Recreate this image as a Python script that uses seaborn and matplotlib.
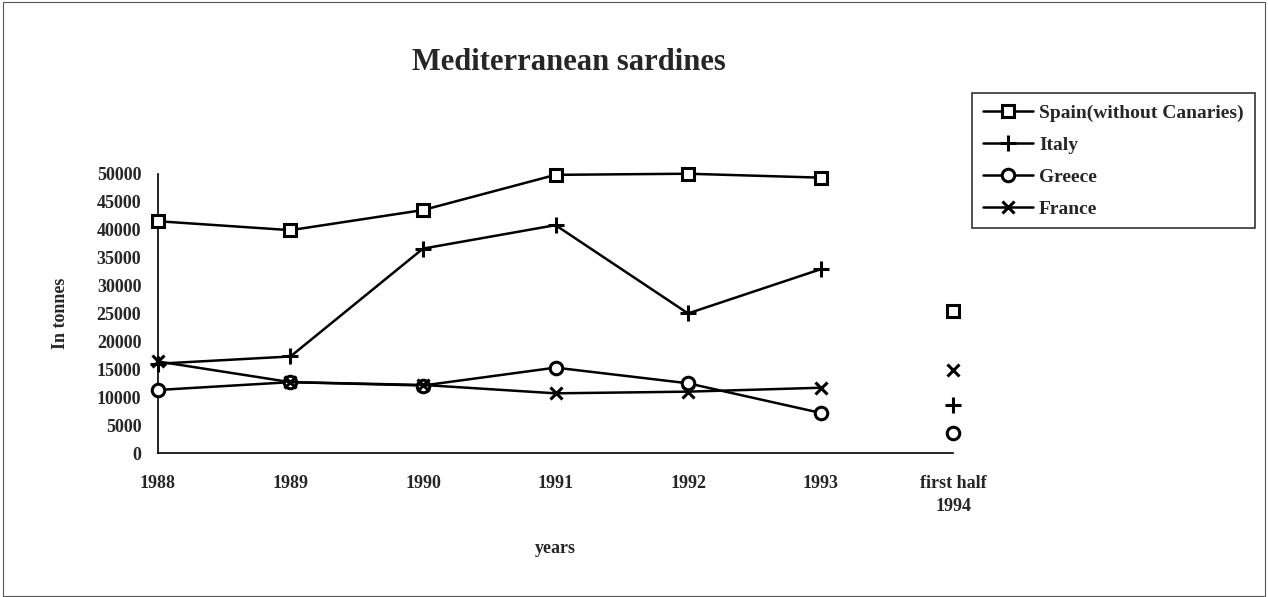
import seaborn as sns
import pandas as pd
import matplotlib.pyplot as plt
from matplotlib.lines import Line2D
from matplotlib.patches import Rectangle

years = ['1988', '1989', '1990', '1991', '1992', '1993', 'first half\n1994']
spain = [41500, 39900, 43500, 49800, 50000, 49300, 25400]
italy = [16000, 17300, 36600, 40800, 25000, 32900, 8600]
greece = [11300, 12700, 12100, 15300, 12500, 7200, 3600]
france = [16400, 12700, 12200, 10700, 11000, 11700, 14900]
countries = ['Spain(without Canaries)', 'Italy', 'Greece', 'France']

rows = []
for name, vals in zip(countries, [spain, italy, greece, france]):
    for i, v in enumerate(vals):
        rows.append({'pos': i, 'year': years[i], 'country': name, 'tonnes': v})
df = pd.DataFrame(rows)

sns.set_style('white')
plt.rcParams['font.family'] = ['Liberation Serif', 'DejaVu Serif']
plt.rcParams['font.weight'] = 'bold'

marks = {'Spain(without Canaries)': 's', 'Italy': '+', 'Greece': 'o', 'France': 'x'}
msize = {'Spain(without Canaries)': 9, 'Italy': 12, 'Greece': 9, 'France': 9}

fig = plt.figure(figsize=(12.68, 5.97), dpi=100)
ax = fig.add_axes([0.1246, 0.241, 0.627, 0.468])

lines = df[df['pos'] < 6]
last = df[df['pos'] == 6]
for name in countries:
    sub = lines[lines['country'] == name]
    sns.lineplot(data=sub, x='pos', y='tonnes', color='black', linewidth=1.8,
                 marker=marks[name], markersize=msize[name], markerfacecolor='white',
                 markeredgecolor='black', markeredgewidth=2.2, ax=ax, legend=False,
                 clip_on=False, zorder=3)
    pt = last[last['country'] == name]
    ax.plot(pt['pos'], pt['tonnes'], linestyle='none', marker=marks[name],
            markersize=msize[name], markerfacecolor='white', markeredgecolor='black',
            markeredgewidth=2.2, clip_on=False, zorder=3)

ax.set_xlim(0, 6)
ax.set_ylim(0, 50000)
ax.set_xticks(range(len(years)))
ax.set_xticklabels(years, fontsize=13, fontweight='bold', linespacing=1.4)
ax.set_yticks(range(0, 50001, 5000))
ax.set_yticklabels([str(v) for v in range(0, 50001, 5000)], fontsize=13, fontweight='bold')
ax.tick_params(axis='both', direction='inout', length=8, width=1, color='black')
ax.tick_params(axis='y', pad=8)
ax.tick_params(axis='x', pad=12)
for s in ['top', 'right']:
    ax.spines[s].set_visible(False)
for s in ['left', 'bottom']:
    ax.spines[s].set_color('black')
    ax.spines[s].set_linewidth(1.2)
ax.set_xlabel('years', fontsize=13, fontweight='bold', labelpad=18)
ax.set_ylabel('In tonnes', fontsize=13, fontweight='bold', labelpad=20)

fig.suptitle('Mediterranean sardines', fontsize=22, fontweight='bold', x=0.449, y=0.896,
             va='center')

handles = [Line2D([], [], color='black', linewidth=1.8, marker=marks[n], markersize=msize[n],
                  markerfacecolor='white', markeredgecolor='black', markeredgewidth=2.2)
           for n in countries]
leg = fig.legend(handles, countries, loc='upper left', bbox_to_anchor=(0.7666, 0.844, 0.2232, 0.0),
                 bbox_transform=fig.transFigure, mode='expand', fontsize=14, frameon=True,
                 fancybox=False, edgecolor='black', handlelength=2.6, handletextpad=0.3,
                 borderaxespad=0, labelspacing=0.74, borderpad=0.55)
for t in leg.get_texts():
    t.set_fontweight('bold')
leg.get_frame().set_linewidth(1.2)

fig.patches.append(Rectangle((0.002, 0.002), 0.996, 0.994, transform=fig.transFigure,
                             fill=False, edgecolor='#555555', linewidth=0.8))

fig.savefig('out.png', dpi=100)
